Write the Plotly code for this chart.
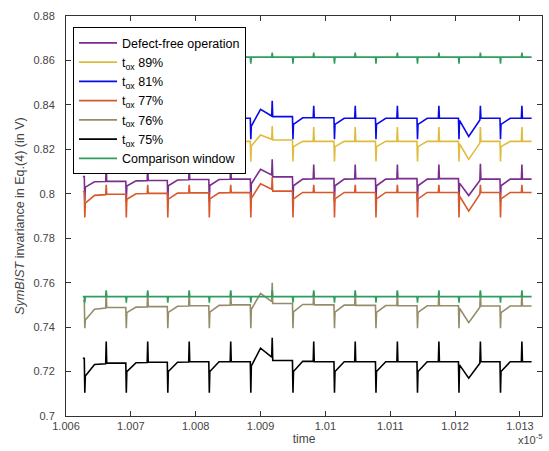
import plotly.graph_objects as go

# ---- time axis (units of 1e-5 s) ----
down_times = [1.00629, 1.00693, 1.00757, 1.00821, 1.00885, 1.00950,
              1.01014, 1.01078, 1.01142, 1.01206, 1.01270]
up_times = [1.00662, 1.00726, 1.00790, 1.00854, 1.00918, 1.00982,
            1.01046, 1.01111, 1.01175, 1.01239, 1.01303]
t_start = 1.00626
t_end = 1.01318

x_tick_vals = [1.006, 1.007, 1.008, 1.009, 1.010, 1.011, 1.012, 1.013]
x_tick_text = ["1.006", "1.007", "1.008", "1.009", "1.01", "1.011", "1.012", "1.013"]
y_tick_vals = [0.70, 0.72, 0.74, 0.76, 0.78, 0.80, 0.82, 0.84, 0.86, 0.88]
y_tick_text = ["0.7", "0.72", "0.74", "0.76", "0.78", "0.8", "0.82", "0.84", "0.86", "0.88"]

# ---- Defect-free operation ----
free_a = [0.8078, 0.8056, 0.8060, 0.8064, 0.8066, 0.8076, 0.8068, 0.8068, 0.8068, 0.8068, 0.8066, 0.8066]
free_lo = [0.7965] * 11
free_dip = [0.8030, 0.8035, 0.8036, 0.8037, 0.8045, 0.8036, 0.8036, 0.8036, 0.8036, 0.8048, 0.8036]
free_mid = [0.8054, 0.8058, 0.8062, 0.8064, 0.8110, 0.8066, 0.8066, 0.8066, 0.8066, 0.7992, 0.8066]
free_pre = [0.8055, 0.8059, 0.8063, 0.8065, 0.8085, 0.8067, 0.8067, 0.8067, 0.8067, 0.8060, 0.8066]
free_hi = [0.8132, 0.8132, 0.8132, 0.8132, 0.8155, 0.8132, 0.8132, 0.8132, 0.8132, 0.8135, 0.8132]

# ---- tox 89% ----
t89_a = [0.8240, 0.8232, 0.8235, 0.8235, 0.8236, 0.8242, 0.8236, 0.8236, 0.8236, 0.8236, 0.8236, 0.8236]
t89_lo = [0.8145] * 11
t89_dip = [0.8190, 0.8212, 0.8212, 0.8212, 0.8215, 0.8212, 0.8212, 0.8212, 0.8212, 0.8225, 0.8212]
t89_mid = [0.8228, 0.8233, 0.8234, 0.8235, 0.8265, 0.8236, 0.8236, 0.8236, 0.8236, 0.8155, 0.8236]
t89_pre = [0.8230, 0.8234, 0.8235, 0.8236, 0.8245, 0.8236, 0.8236, 0.8236, 0.8236, 0.8228, 0.8236]
t89_hi = [0.8300, 0.8300, 0.8300, 0.8300, 0.8305, 0.8300, 0.8300, 0.8300, 0.8300, 0.8300, 0.8300]

# ---- tox 81% ----
t81_a = [0.8340, 0.8338, 0.8340, 0.8340, 0.8340, 0.8347, 0.8342, 0.8340, 0.8340, 0.8340, 0.8340, 0.8340]
t81_lo = [0.8245] * 11
t81_dip = [0.8300, 0.8312, 0.8312, 0.8312, 0.8305, 0.8312, 0.8312, 0.8312, 0.8312, 0.8330, 0.8312]
t81_mid = [0.8335, 0.8339, 0.8340, 0.8340, 0.8380, 0.8342, 0.8340, 0.8340, 0.8340, 0.8258, 0.8340]
t81_pre = [0.8337, 0.8340, 0.8340, 0.8340, 0.8350, 0.8342, 0.8340, 0.8340, 0.8340, 0.8332, 0.8340]
t81_hi = [0.8396, 0.8396, 0.8396, 0.8396, 0.8418, 0.8396, 0.8396, 0.8396, 0.8396, 0.8396, 0.8396]

# ---- tox 77% ----
t77_a = [0.8010, 0.7998, 0.8002, 0.8004, 0.8005, 0.8012, 0.8006, 0.8006, 0.8006, 0.8006, 0.8006, 0.8006]
t77_lo = [0.7893] * 11
t77_dip = [0.7958, 0.7975, 0.7976, 0.7977, 0.7980, 0.7977, 0.7977, 0.7977, 0.7977, 0.7990, 0.7977]
t77_mid = [0.7993, 0.8000, 0.8003, 0.8004, 0.8045, 0.8006, 0.8006, 0.8006, 0.8006, 0.7922, 0.8006]
t77_pre = [0.7996, 0.8001, 0.8004, 0.8005, 0.8020, 0.8006, 0.8006, 0.8006, 0.8006, 0.7998, 0.8006]
t77_hi = [0.8040, 0.8040, 0.8040, 0.8040, 0.8075, 0.8040, 0.8040, 0.8040, 0.8040, 0.8040, 0.8040]

# ---- tox 76% ----
t76_a = [0.7520, 0.7488, 0.7492, 0.7496, 0.7500, 0.7506, 0.7500, 0.7498, 0.7496, 0.7496, 0.7495, 0.7495]
t76_lo = [0.7395] * 11
t76_dip = [0.7432, 0.7465, 0.7466, 0.7467, 0.7480, 0.7468, 0.7467, 0.7466, 0.7466, 0.7485, 0.7465]
t76_mid = [0.7480, 0.7490, 0.7494, 0.7498, 0.7552, 0.7502, 0.7499, 0.7497, 0.7496, 0.7420, 0.7495]
t76_pre = [0.7486, 0.7491, 0.7495, 0.7499, 0.7515, 0.7502, 0.7499, 0.7497, 0.7496, 0.7490, 0.7495]
t76_hi = [0.7560, 0.7560, 0.7560, 0.7560, 0.7600, 0.7560, 0.7560, 0.7560, 0.7560, 0.7560, 0.7560]

# ---- tox 75% ----
t75_a = [0.7260, 0.7238, 0.7242, 0.7244, 0.7244, 0.7250, 0.7244, 0.7244, 0.7244, 0.7244, 0.7244, 0.7244]
t75_lo = [0.7105] * 11
t75_dip = [0.7180, 0.7200, 0.7200, 0.7200, 0.7225, 0.7200, 0.7200, 0.7200, 0.7200, 0.7230, 0.7200]
t75_mid = [0.7232, 0.7240, 0.7242, 0.7244, 0.7305, 0.7246, 0.7244, 0.7244, 0.7244, 0.7170, 0.7244]
t75_pre = [0.7235, 0.7241, 0.7243, 0.7244, 0.7265, 0.7246, 0.7244, 0.7244, 0.7244, 0.7238, 0.7244]
t75_hi = [0.7335, 0.7335, 0.7335, 0.7335, 0.7352, 0.7335, 0.7335, 0.7335, 0.7335, 0.7335, 0.7335]

# ---- Comparison window ----
window_hi = 0.8615
window_hi_down = 0.8585
window_hi_up = 0.8635
window_lo = 0.7537
window_lo_down = 0.7510
window_lo_up = 0.7565

SPIKE_W = 0.000008
RECOVER = 0.00015


def build(a, lo, dip, mid, pre, hi):
    xs, ys = [t_start], [a[0]]
    for k, (td, tu) in enumerate(zip(down_times, up_times)):
        xs += [td - SPIKE_W, td, td + SPIKE_W, td + RECOVER, tu - SPIKE_W, tu, tu + SPIKE_W]
        ys += [a[k], lo[k], dip[k], mid[k], pre[k], hi[k], a[k + 1]]
    xs.append(t_end)
    ys.append(a[-1])
    return xs, ys


def build_window(level, down, up):
    xs, ys = [t_start], [level]
    for td, tu in zip(down_times, up_times):
        xs += [td - SPIKE_W, td, td + SPIKE_W, tu - SPIKE_W, tu, tu + SPIKE_W]
        ys += [level, down, level, level, up, level]
    xs.append(t_end)
    ys.append(level)
    return xs, ys


series = [
    ("Defect-free operation", "#7B2D8E", (free_a, free_lo, free_dip, free_mid, free_pre, free_hi)),
    ("t<sub>ox</sub> 89%", "#E0BC3C", (t89_a, t89_lo, t89_dip, t89_mid, t89_pre, t89_hi)),
    ("t<sub>ox</sub> 81%", "#0A0AE6", (t81_a, t81_lo, t81_dip, t81_mid, t81_pre, t81_hi)),
    ("t<sub>ox</sub> 77%", "#D8582A", (t77_a, t77_lo, t77_dip, t77_mid, t77_pre, t77_hi)),
    ("t<sub>ox</sub> 76%", "#958C6A", (t76_a, t76_lo, t76_dip, t76_mid, t76_pre, t76_hi)),
    ("t<sub>ox</sub> 75%", "#000000", (t75_a, t75_lo, t75_dip, t75_mid, t75_pre, t75_hi)),
]

fig = go.Figure()
for name, color, lists in series:
    xs, ys = build(*lists)
    fig.add_trace(go.Scatter(x=xs, y=ys, mode="lines", name=name,
                             line=dict(color=color, width=1.6)))

wx1, wy1 = build_window(window_hi, window_hi_down, window_hi_up)
wx2, wy2 = build_window(window_lo, window_lo_down, window_lo_up)
fig.add_trace(go.Scatter(x=wx1 + [None] + wx2, y=wy1 + [None] + wy2, mode="lines",
                         name="Comparison window", connectgaps=False,
                         line=dict(color="#2E9E5E", width=1.6)))

axis_common = dict(showline=True, linecolor="#333333", linewidth=1, mirror="ticks",
                   ticks="inside", ticklen=5, tickcolor="#333333", showgrid=False,
                   zeroline=False, automargin=False,
                   tickfont=dict(size=11, color="#444444"))

fig.update_layout(
    width=549, height=451,
    margin=dict(l=66, r=7, t=16, b=35),
    paper_bgcolor="white", plot_bgcolor="white",
    font=dict(family="Liberation Sans, Arial, sans-serif", color="#444444"),
    xaxis=dict(range=[1.006, 1.01334], tickvals=x_tick_vals, ticktext=x_tick_text,
               ticklabelstandoff=0,
               title=dict(text="time", font=dict(size=12, color="#444444"), standoff=0),
               **axis_common),
    yaxis=dict(range=[0.70, 0.88], tickvals=y_tick_vals, ticktext=y_tick_text,
               ticklabelstandoff=8,
               title=dict(text="<i>SymBIST</i> invariance in Eq.(4) (in V)",
                          font=dict(size=12.5, color="#444444"), standoff=6),
               **axis_common),
    legend=dict(x=0.0147, y=0.972, xanchor="left", yanchor="top",
                bgcolor="white", bordercolor="#000000", borderwidth=1,
                itemwidth=38,
                font=dict(size=12.5, color="#000000"), tracegroupgap=0),
    showlegend=True,
)

fig.add_annotation(text="x10<sup>-5</sup>", xref="paper", yref="paper",
                   x=0.975, y=-0.058, xanchor="center", yanchor="middle",
                   showarrow=False, font=dict(size=11, color="#444444"))

fig.write_html("out.html", config={"displayModeBar": False},
               post_script="document.body.style.margin='0px';document.body.style.overflow='hidden';")
